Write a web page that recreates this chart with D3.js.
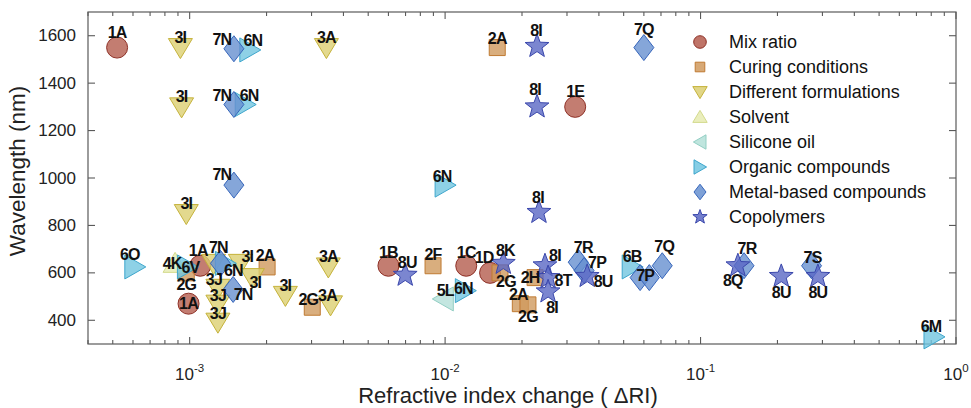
<!DOCTYPE html>
<html>
<head>
<meta charset="utf-8">
<script src="https://cdn.jsdelivr.net/npm/d3@7"></script>
<style>
  body { margin: 0; background: #fff; }
  svg { display: block; }
  text { font-family: "Liberation Sans", Arial, Helvetica, sans-serif; }
</style>
</head>
<body>
<svg id="chart" width="971" height="408"></svg>
<script>
// ---- Data -------------------------------------------------------------
const categories = [
  "Mix ratio", "Curing conditions", "Different formulations", "Solvent",
  "Silicone oil", "Organic compounds", "Metal-based compounds", "Copolymers"
];

// Mix ratio
const mixLabels = ["1A", "1A", "1A", "1B", "1C", "1D", "1E"];
const mixRI     = [5.2e-4, 1.1e-3, 9.9e-4, 6.0e-3, 1.21e-2, 1.5e-2, 3.23e-2];
const mixWL     = [1550, 630, 470, 630, 630, 600, 1300];

// Curing conditions
const curLabels = ["2A", "2G", "2A", "2G", "2F", "2G", "2H", "2A", "2G"];
const curRI     = [1.6e-2, 9.7e-4, 2.01e-3, 3.02e-3, 8.97e-3, 1.64e-2, 2.25e-2, 1.97e-2, 2.11e-2];
const curWL     = [1550, 600, 625, 455, 630, 600, 580, 470, 465];

// Different formulations
const forLabels = ["3I", "3A", "3I", "3I", "", "3I", "3I", "3J", "3J", "3J", "3I", "3A", "3A"];
const forRI     = [9.2e-4, 3.43e-3, 9.3e-4, 9.7e-4, 1.24e-3, 1.58e-3, 1.76e-3, 1.29e-3, 1.29e-3, 1.29e-3, 2.37e-3, 3.49e-3, 3.56e-3];
const forWL     = [1550, 1550, 1300, 850, 640, 640, 580, 535, 468, 392, 505, 625, 465];

// Solvent
const solLabels = ["4K"];
const solRI     = [8.77e-4];
const solWL     = [640];

// Silicone oil
const silLabels = ["5L"];
const silRI     = [9.84e-3];
const silWL     = [490];

// Organic compounds
const orgLabels = ["6N", "6N", "6N", "6O", "6V", "6N", "6N", "6B", "6M"];
const orgRI     = [1.72e-3, 1.65e-3, 1.0e-2, 6.1e-4, 9.8e-4, 1.38e-3, 1.2e-2, 5.4e-2, 0.82];
const orgWL     = [1540, 1310, 970, 625, 625, 640, 525, 625, 330];

// Metal-based compounds
const metLabels = ["7N", "7N", "7N", "7N", "7N", "7Q", "7R", "7P", "7P", "", "7Q", "7R", "7S"];
const metRI     = [1.49e-3, 1.49e-3, 1.49e-3, 1.32e-3, 1.48e-3, 6.0e-2, 3.32e-2, 3.5e-2, 5.8e-2, 6.3e-2, 7.08e-2, 1.48e-1, 2.72e-1];
const metWL     = [1545, 1310, 970, 640, 530, 1550, 645, 610, 580, 580, 630, 630, 630];

// Copolymers
const copLabels = ["8I", "8I", "8I", "8U", "8K", "8I", "8T", "8I", "8U", "8Q", "8U", "8U"];
const copRI     = [2.29e-2, 2.29e-2, 2.33e-2, 6.98e-3, 1.69e-2, 2.46e-2, 2.53e-2, 2.53e-2, 3.6e-2, 1.4e-1, 2.07e-1, 2.88e-1];
const copWL     = [1555, 1300, 855, 590, 640, 630, 580, 520, 585, 630, 585, 585];

// Axis ticks
const xTickValues = [1e-3, 1e-2, 1e-1, 1];
const xTickExponents = ["-3", "-2", "-1", "0"];
const yTickValues = [400, 600, 800, 1000, 1200, 1400, 1600];

// ---- Label nudges (px, relative to each marker) -----------------------
const mixNudge = [[0,-15],[-2,-15],[0,0],[0,-13],[0,-13],[-6,-15],[0,-15]];
const curNudge = [[0,-9],[0,12],[-2,-11],[-4,-8],[0,-11],[6,9],[-5,0],[-2,-9],[0,12]];
const forNudge = [[0,-10],[0,-10],[0,-10],[0,-10],[0,0],[7,-7],[3,5],[-4,-9],[0,-9],[0,-9],[0,-10],[0,-10],[-3,-9]];
const solNudge = [[-3,0]];
const silNudge = [[2,-8]];
const orgNudge = [[3,-9],[4,-9],[-3,-9],[-5,-12],[3,1],[8,7],[-2,-2],[0,-10],[-3,-10]];
const metNudge = [[-12,-9],[-12,-9],[-12,-11],[-2,-16],[10,5],[0,-18],[5,-15],[13,-8],[5,-2],[0,0],[2,-19],[3,-17],[1,-8]];
const copNudge = [[-1,-16],[-2,-17],[-1,-15],[2,-13],[2,-13],[10,-10],[15,3],[4,16],[16,5],[-5,15],[0,16],[0,16]];

// ---- Series table -----------------------------------------------------
const seriesInputs = [
  [mixLabels, mixRI, mixWL, mixNudge],
  [curLabels, curRI, curWL, curNudge],
  [forLabels, forRI, forWL, forNudge],
  [solLabels, solRI, solWL, solNudge],
  [silLabels, silRI, silWL, silNudge],
  [orgLabels, orgRI, orgWL, orgNudge],
  [metLabels, metRI, metWL, metNudge],
  [copLabels, copRI, copWL, copNudge]
];

const styles = [
  { shape: "circle",   fill: "#b45c4e", stroke: "#8e3026" },
  { shape: "square",   fill: "#d09a5e", stroke: "#bf7a32" },
  { shape: "triDown",  fill: "#dccf72", stroke: "#c5b23a" },
  { shape: "triUp",    fill: "#e6ebb0", stroke: "#d3da8c" },
  { shape: "triLeft",  fill: "#b4e0d8", stroke: "#93cfc4" },
  { shape: "triRight", fill: "#72c5e0", stroke: "#3ea6cc" },
  { shape: "diamond",  fill: "#6790d0", stroke: "#3766bb" },
  { shape: "star",     fill: "#5a68c4", stroke: "#3a47ac" }
];

const series = categories.map((name, i) => {
  const [labels, ri, wl, nudge] = seriesInputs[i];
  return {
    name, style: styles[i],
    points: labels.map((lab, j) => ({ label: lab, ri: ri[j], wl: wl[j], nudge: nudge[j] }))
  };
});

// ---- Layout -----------------------------------------------------------
const plot = { left: 88, right: 956, top: 12, bottom: 344 };

const x = d3.scaleLog().domain([4e-4, 1]).range([plot.left, plot.right]);
const y = d3.scaleLinear().domain([300, 1700]).range([plot.bottom, plot.top]);

const svg = d3.select("#chart");
const axisColor = "#5a5a5a";

// ---- Marker shapes ----------------------------------------------------
function starPath(ro, ri) {
  const pts = [];
  for (let k = 0; k < 10; k++) {
    const r = k % 2 === 0 ? ro : ri;
    const a = -Math.PI / 2 + k * Math.PI / 5;
    pts.push([r * Math.cos(a), r * Math.sin(a)]);
  }
  return "M" + pts.map(p => p.join(",")).join("L") + "Z";
}
function poly(pts) { return "M" + pts.map(p => p.join(",")).join("L") + "Z"; }

function shapePath(shape, s) {
  switch (shape) {
    case "circle":   return d3.arc()({ innerRadius: 0, outerRadius: 10.5 * s, startAngle: 0, endAngle: 2 * Math.PI });
    case "square":   return poly([[-8*s,-8*s],[8*s,-8*s],[8*s,8*s],[-8*s,8*s]]);
    case "triDown":  return poly([[-12*s,-9*s],[12*s,-9*s],[0,11*s]]);
    case "triUp":    return poly([[0,-11*s],[12*s,9*s],[-12*s,9*s]]);
    case "triLeft":  return poly([[-11*s,0],[10*s,-12*s],[10*s,12*s]]);
    case "triRight": return poly([[11*s,0],[-10*s,-12*s],[-10*s,12*s]]);
    case "diamond":  return poly([[0,-13*s],[10*s,0],[0,13*s],[-10*s,0]]);
    case "star":     return starPath(12.5 * s, 5.2 * s);
  }
}

// ---- Axes box + ticks ---------------------------------------------------
const gAxes = svg.append("g");

const minorTicks = [];
for (let e = -4; e < 0; e++) for (let m = 1; m <= 9; m++) {
  const v = m * Math.pow(10, e);
  if (v >= 4e-4 && v <= 1) minorTicks.push(v);
}
const xMinor = minorTicks.filter(v => !xTickValues.some(t => Math.abs(t - v) / t < 1e-9));

gAxes.append("rect")
  .attr("x", plot.left).attr("y", plot.top)
  .attr("width", plot.right - plot.left).attr("height", plot.bottom - plot.top)
  .attr("fill", "none").attr("stroke", axisColor).attr("stroke-width", 1.2);

const tickG = gAxes.append("g").attr("stroke", axisColor).attr("stroke-width", 1.1);
xTickValues.forEach(v => {
  const px = x(v);
  tickG.append("line").attr("x1", px).attr("x2", px).attr("y1", plot.bottom).attr("y2", plot.bottom - 7);
  tickG.append("line").attr("x1", px).attr("x2", px).attr("y1", plot.top).attr("y2", plot.top + 7);
});
xMinor.forEach(v => {
  const px = x(v);
  tickG.append("line").attr("x1", px).attr("x2", px).attr("y1", plot.bottom).attr("y2", plot.bottom - 4);
  tickG.append("line").attr("x1", px).attr("x2", px).attr("y1", plot.top).attr("y2", plot.top + 4);
});
yTickValues.forEach(v => {
  const py = y(v);
  tickG.append("line").attr("x1", plot.left).attr("x2", plot.left + 7).attr("y1", py).attr("y2", py);
  tickG.append("line").attr("x1", plot.right).attr("x2", plot.right - 7).attr("y1", py).attr("y2", py);
});

// tick labels
const yLab = gAxes.append("g").attr("fill", "#222").attr("font-size", 17);
yTickValues.forEach(v => {
  yLab.append("text").attr("x", plot.left - 12).attr("y", y(v))
    .attr("text-anchor", "end").attr("dominant-baseline", "central").text(v);
});
const xLab = gAxes.append("g").attr("fill", "#222");
xTickValues.forEach((v, i) => {
  const t = xLab.append("text").attr("x", x(v)).attr("y", 380).attr("text-anchor", "middle").attr("font-size", 17);
  t.append("tspan").text("10");
  t.append("tspan").attr("font-size", 11.5).attr("dy", -8).text(xTickExponents[i]);
});

// axis titles
svg.append("text").attr("x", 508).attr("y", 403).attr("text-anchor", "middle")
  .attr("font-size", 22).attr("fill", "#222").text("Refractive index change ( \u0394RI)");
svg.append("text").attr("transform", `translate(25,${(plot.top + plot.bottom) / 2 - 7}) rotate(-90)`)
  .attr("text-anchor", "middle").attr("font-size", 22.5).attr("fill", "#222").text("Wavelength (nm)");

// ---- Markers ------------------------------------------------------------
const gMarks = svg.append("g");
series.forEach(s => {
  gMarks.append("g").selectAll("path").data(s.points).join("path")
    .attr("d", shapePath(s.style.shape, 1))
    .attr("transform", d => `translate(${x(d.ri)},${y(d.wl)})`)
    .attr("fill", s.style.fill).attr("fill-opacity", 0.8)
    .attr("stroke", s.style.stroke).attr("stroke-width", 1);
});

// ---- Point labels -------------------------------------------------------
const gLabels = svg.append("g").attr("font-size", 16).attr("font-weight", "bold").attr("fill", "#111");
series.forEach(s => {
  s.points.filter(d => d.label).forEach(d => {
    gLabels.append("text")
      .attr("x", x(d.ri) + d.nudge[0]).attr("y", y(d.wl) + d.nudge[1])
      .attr("text-anchor", "middle").attr("dominant-baseline", "central")
      .attr("letter-spacing", -0.8)
      .text(d.label);
  });
});

// ---- Legend -------------------------------------------------------------
const legend = svg.append("g").attr("transform", "translate(700,42)");
series.forEach((s, i) => {
  const row = legend.append("g").attr("transform", `translate(0,${i * 25})`);
  row.append("path").attr("d", shapePath(s.style.shape, 0.6))
    .attr("fill", s.style.fill).attr("fill-opacity", 0.85)
    .attr("stroke", s.style.stroke).attr("stroke-width", 1);
  row.append("text").attr("x", 29).attr("y", 0).attr("dominant-baseline", "central")
    .attr("font-size", 18).attr("fill", "#111").text(s.name);
});
</script>
</body>
</html>
